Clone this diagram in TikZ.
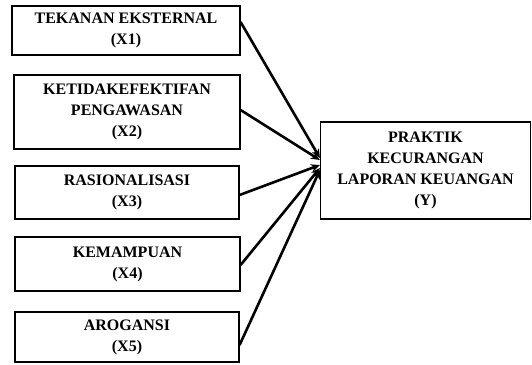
\documentclass[tikz,border=0pt]{standalone}
\usepackage{fontspec}
\setmainfont{Liberation Serif}
\usetikzlibrary{arrows.meta}
\begin{document}
\begin{tikzpicture}[x=1pt,y=-1pt,
  var/.style={draw,line width=1.2pt,align=center,inner sep=0pt,
    font=\bfseries\fontsize{16}{21}\selectfont},
  link/.style={line width=2.6pt,-{Stealth[length=9pt,width=8pt]}}]
\useasboundingbox (0,0) rectangle (532,364);

\node[var,minimum width=228pt,minimum height=49pt] (x1) at (126,30.5) {TEKANAN EKSTERNAL\\(X1)};
\node[var,minimum width=226pt,minimum height=74pt] (x2) at (127,112) {KETIDAKEFEKTIFAN\\PENGAWASAN\\(X2)};
\node[var,minimum width=224pt,minimum height=53pt] (x3) at (127,192.5) {RASIONALISASI\\(X3)};
\node[var,minimum width=225pt,minimum height=54pt] (x4) at (127.5,264) {KEMAMPUAN\\(X4)};
\node[var,minimum width=224pt,minimum height=50pt] (x5) at (127,337) {AROGANSI\\(X5)};
\node[var,minimum width=210pt,minimum height=97pt] (y) at (425.5,170.5) {PRAKTIK\\KECURANGAN\\LAPORAN KEUANGAN\\(Y)};

\draw[link] ([yshift=8.5pt]x1.east) -- ([yshift=12.5pt]y.west);
\draw[link] ([yshift=2pt]x2.east) -- ([yshift=10.5pt]y.west);
\draw[link] ([yshift=-2.5pt]x3.east) -- ([yshift=5.5pt]y.west);
\draw[link] ([yshift=-1pt]x4.east) -- ([yshift=2.5pt]y.west);
\draw[link] ([yshift=-8pt]x5.east) -- ([yshift=0.5pt]y.west);
\end{tikzpicture}
\end{document}
